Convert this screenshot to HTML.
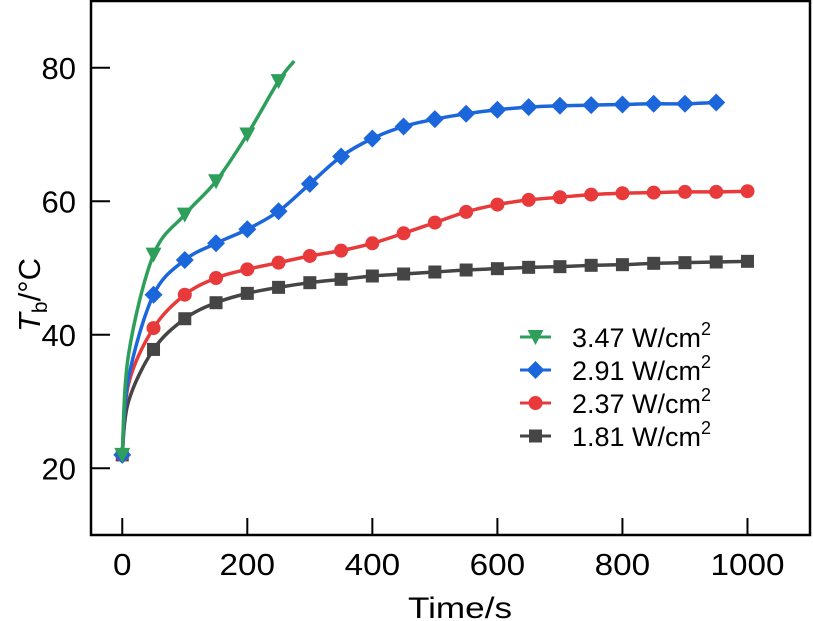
<!DOCTYPE html>
<html><head><meta charset="utf-8"><style>
html,body{margin:0;padding:0;background:#fff;}
svg{display:block;font-family:"Liberation Sans",Arial,sans-serif;}
</style></head><body>
<svg id="chart" width="813" height="621" viewBox="0 0 813 621" xmlns="http://www.w3.org/2000/svg">
<g id="plot"></g>
</svg>
<script>
const xTicks = [0, 200, 400, 600, 800, 1000];
const yTicks = [20, 40, 60, 80];
const seriesNames = ["3.47 W/cm", "2.91 W/cm", "2.37 W/cm", "1.81 W/cm"];
const timesGreen = [0, 10, 50, 100, 150, 200, 250, 275];
const valuesGreen = [22, 37, 52, 58, 63, 70, 78, 81];
const timesLong = [0, 10, 50, 100, 150, 200, 250, 300, 350, 400, 450, 500, 550, 600, 650, 700, 750, 800, 850, 900, 950, 1000];
const valuesBlue = [22, 33.5, 46, 51.2, 53.7, 55.8, 58.5, 62.6, 66.7, 69.4, 71.2, 72.3, 73.1, 73.7, 74.1, 74.3, 74.4, 74.5, 74.6, 74.6, 74.8];
const valuesRed = [22, 32.6, 41, 46, 48.5, 49.8, 50.8, 51.8, 52.6, 53.7, 55.2, 56.8, 58.4, 59.5, 60.2, 60.6, 61, 61.2, 61.3, 61.4, 61.4, 61.5];
const valuesGray = [22, 30, 37.8, 42.4, 44.8, 46.2, 47.1, 47.8, 48.3, 48.8, 49.1, 49.4, 49.7, 49.9, 50.1, 50.2, 50.4, 50.5, 50.7, 50.8, 50.9, 51];

const NS = "http://www.w3.org/2000/svg";
const L = 91, R = 810, T = 1, B = 535;
const xMin = -50, xMax = 1100, yMin = 10, yMax = 90;
const xs = v => L + (v - xMin) / (xMax - xMin) * (R - L);
const ys = v => B - (v - yMin) / (yMax - yMin) * (B - T);
const g = document.getElementById('plot');
function mk(tag, attrs, parent) {
  const e = document.createElementNS(NS, tag);
  for (const k in attrs) e.setAttribute(k, attrs[k]);
  (parent || g).appendChild(e);
  return e;
}
function pathFor(ts, vs) {
  const n = Math.min(ts.length, vs.length);
  const p = [];
  for (let i = 0; i < n; i++) p.push([xs(ts[i]), ys(vs[i])]);
  let d = "M" + p[0][0] + "," + p[0][1];
  for (let i = 0; i < p.length - 1; i++) {
    const p0 = p[i - 1] || p[i], p1 = p[i], p2 = p[i + 1], p3 = p[i + 2] || p2;
    const c1 = [p1[0] + (p2[0] - p0[0]) / 6, p1[1] + (p2[1] - p0[1]) / 6];
    const c2 = [p2[0] - (p3[0] - p1[0]) / 6, p2[1] - (p3[1] - p1[1]) / 6];
    d += " C" + c1 + " " + c2 + " " + p2;
  }
  return d;
}
function marker(type, cx, cy, color, parent) {
  let e;
  if (type === 'tri') e = mk('polygon', {points: `${cx-8},${cy-7} ${cx+8},${cy-7} ${cx},${cy+8}`, fill: color}, parent);
  else if (type === 'dia') e = mk('polygon', {points: `${cx},${cy-9} ${cx+9},${cy} ${cx},${cy+9} ${cx-9},${cy}`, fill: color}, parent);
  else if (type === 'circ') e = mk('circle', {cx, cy, r: 7, fill: color}, parent);
  else e = mk('rect', {x: cx-6.5, y: cy-6.5, width: 13, height: 13, fill: color}, parent);
  return e;
}
const frame = mk('rect', {x: L, y: T, width: R - L, height: B - T, fill: 'none', stroke: '#000', 'stroke-width': 2.5});


xTicks.forEach(t => {
  const tk = mk('line', {x1: xs(t), x2: xs(t), y1: B, y2: B - 17, stroke: '#000', 'stroke-width': 2});
  
  
  const tx = mk('text', {x: xs(t), y: 575, 'font-size': 31, 'text-anchor': 'middle', textLength: String(t).length * 18.5, lengthAdjust: 'spacingAndGlyphs'});
  tx.textContent = t;
  
  
});
yTicks.forEach(t => {
  const tk = mk('line', {x1: L, x2: L + 19, y1: ys(t), y2: ys(t), stroke: '#000', 'stroke-width': 2});
  
  
  const tx = mk('text', {x: 76, y: ys(t) + 11, 'font-size': 31, 'text-anchor': 'end'});
  tx.textContent = t;
  
  
});
const xt = mk('text', {x: 460, y: 618, 'font-size': 30, 'text-anchor': 'middle', textLength: 104, lengthAdjust: 'spacingAndGlyphs'});
xt.textContent = 'Time/s';


const yt = mk('text', {transform: 'translate(40,295) rotate(-90)', 'font-size': 31, 'text-anchor': 'middle'});
yt.innerHTML = '<tspan font-style="italic">T</tspan><tspan font-size="21" dy="7">b</tspan><tspan dy="-7">/°C</tspan>';



const series = [
  {name: seriesNames[3], t: timesLong, v: valuesGray, c: '#454545', m: 'sq', key: 'gray'},
  {name: seriesNames[2], t: timesLong, v: valuesRed, c: '#e8393b', m: 'circ', key: 'red'},
  {name: seriesNames[1], t: timesLong.slice(0, 21), v: valuesBlue, c: '#1c66dc', m: 'dia', key: 'blue'},
  {name: seriesNames[0], t: timesGreen, v: valuesGreen, c: '#2e9f5b', m: 'tri', key: 'green'}
];
series.forEach(s => {
  const sg = mk('g', {});
  
  
  const ln = mk('path', {d: pathFor(s.t, s.v), fill: 'none', stroke: s.c, 'stroke-width': 3.5}, sg);
  
  
  for (let i = 0; i < Math.min(s.t.length, s.v.length); i++) {
    if (s.t[i] % 50 !== 0 || (s.key === 'green' && s.t[i] > 250)) continue;
    const mEl = marker(s.m, xs(s.t[i]), ys(s.v[i]), s.c, sg);
    
    
  }
});
const lg = mk('g', {});


const legendOrder = [3, 2, 1, 0];
legendOrder.forEach((si, i) => {
  const s = series[si];
  const y = 337 + i * 33;
  const eg = mk('g', {}, lg);
  
  
  mk('line', {x1: 520, x2: 551, y1: y, y2: y, stroke: s.c, 'stroke-width': 3}, eg);
  marker(s.m, 535.5, y, s.c, eg);
  const tx = mk('text', {x: 572, y: y + 10, 'font-size': 27}, eg);
  tx.innerHTML = s.name + '<tspan font-size="18" dy="-12">2</tspan>';
});
</script>
</body></html>
